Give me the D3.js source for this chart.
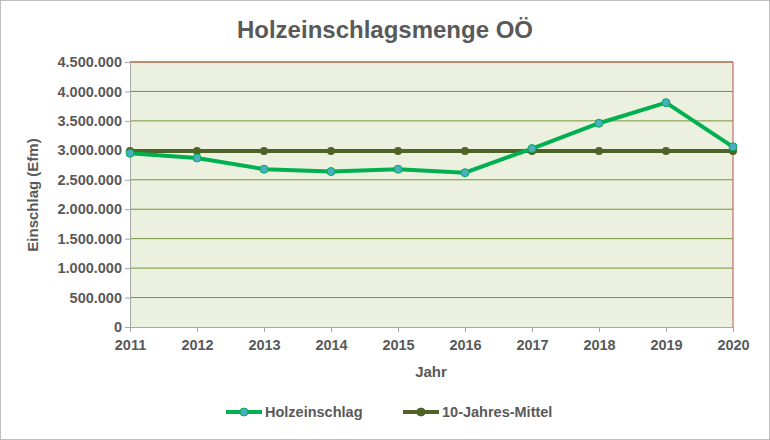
<!DOCTYPE html>
<html><head><meta charset="utf-8">
<script src="https://cdn.jsdelivr.net/npm/d3@7"></script>
<style>body{margin:0;background:#fff}svg{font-family:Arial,"Liberation Sans",sans-serif}</style>
</head><body><svg id="c" width="770" height="440"></svg>
<script>
const years = [2011,2012,2013,2014,2015,2016,2017,2018,2019,2020];
const einschlag = [2950000,2870000,2680000,2640000,2680000,2620000,3030000,3460000,3810000,3060000];
const mittel = [2990000,2990000,2990000,2990000,2990000,2990000,2990000,2990000,2990000,2990000];
const yTicks = [0,500000,1000000,1500000,2000000,2500000,3000000,3500000,4000000,4500000];

const svg = d3.select("#c");
svg.append("rect").attr("x",0.5).attr("y",0.5).attr("width",769).attr("height",439).attr("fill","#fff").attr("stroke","#bfbfbf");
const L=130,R=733,T=62,B=327;
const x = d3.scalePoint().domain(years).range([L,R]);
const y = d3.scaleLinear().domain([0,4500000]).range([B,T]);
const fmt = v => d3.format(",")(v).replace(/,/g,".");

svg.append("rect").attr("x",L).attr("y",T).attr("width",R-L).attr("height",B-T).attr("fill","#ebf1de");
svg.append("g").selectAll("line").data(yTicks.slice(1)).join("line")
  .attr("x1",L).attr("x2",R).attr("y1",d=>y(d)).attr("y2",d=>y(d)).attr("stroke","#77933c").attr("stroke-width",1);
svg.append("line").attr("x1",R).attr("x2",R).attr("y1",T).attr("y2",B).attr("stroke","#c0504d");
svg.append("line").attr("x1",L).attr("x2",R).attr("y1",T).attr("y2",T).attr("stroke","#c0504d");

const ya = svg.append("g").attr("transform",`translate(${L},0)`).call(d3.axisLeft(y).tickValues(yTicks).tickFormat(fmt).tickSize(5));
const xa = svg.append("g").attr("transform",`translate(0,${B})`).call(d3.axisBottom(x).tickSize(5));
[ya,xa].forEach(a=>{a.selectAll("path,line").attr("stroke","#a6a6a6");a.selectAll("text").attr("fill","#595959").attr("font-size",14.5).attr("font-weight","bold");});
xa.selectAll("text").attr("dy","1.05em");

const line = d3.line().x((d,i)=>x(years[i])).y(d=>y(d));
svg.append("path").datum(mittel).attr("d",line).attr("fill","none").attr("stroke","#4f6228").attr("stroke-width",4);
svg.append("g").selectAll("circle").data(mittel).join("circle").attr("cx",(d,i)=>x(years[i])).attr("cy",d=>y(d)).attr("r",4).attr("fill","#4f6228");
svg.append("path").datum(einschlag).attr("d",line).attr("fill","none").attr("stroke","#00b050").attr("stroke-width",4);
svg.append("g").selectAll("circle").data(einschlag).join("circle").attr("cx",(d,i)=>x(years[i])).attr("cy",d=>y(d)).attr("r",4).attr("fill","#4bacc6").attr("stroke","#00b050").attr("stroke-width",1);

svg.append("text").attr("x",385).attr("y",38).attr("text-anchor","middle").attr("font-size",24).attr("font-weight","bold").attr("fill","#595959").text("Holzeinschlagsmenge OÖ");
svg.append("text").attr("x",431).attr("y",377).attr("text-anchor","middle").attr("font-size",15).attr("font-weight","bold").attr("fill","#595959").text("Jahr");
svg.append("text").attr("transform","translate(38,195) rotate(-90)").attr("text-anchor","middle").attr("font-size",15).attr("font-weight","bold").attr("fill","#595959").text("Einschlag (Efm)");

const leg=[["Holzeinschlag","#00b050","#4bacc6",226],["10-Jahres-Mittel","#4f6228","#4f6228",403]];
leg.forEach(([t,c,m,lx])=>{
  svg.append("line").attr("x1",lx).attr("x2",lx+36).attr("y1",412).attr("y2",412).attr("stroke",c).attr("stroke-width",4);
  svg.append("circle").attr("cx",lx+18).attr("cy",412).attr("r",4).attr("fill",m).attr("stroke",c);
  svg.append("text").attr("x",lx+39).attr("y",417).attr("font-size",14.5).attr("font-weight","bold").attr("fill","#595959").text(t);
});
</script></body></html>
